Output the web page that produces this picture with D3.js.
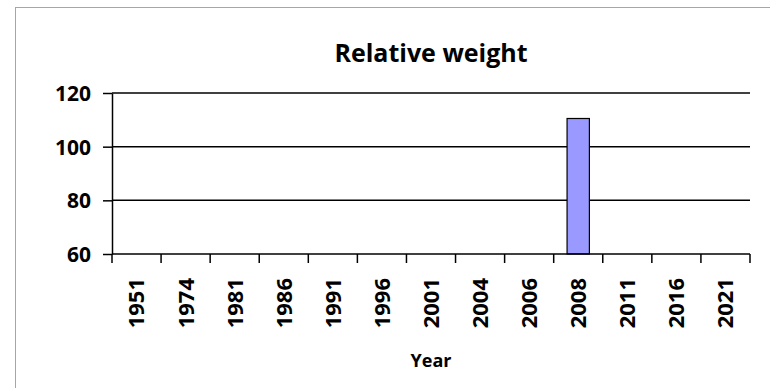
<!DOCTYPE html>
<html>
<head>
<meta charset="utf-8">
<script src="https://cdn.jsdelivr.net/npm/d3@7"></script>
<style>
  html, body { margin: 0; padding: 0; background: #fff; }
  svg { display: block; }
  text { font-family: "Open Sans", "Liberation Sans", sans-serif; font-weight: bold; fill: #000; }
</style>
</head>
<body>
<svg id="chart" width="770" height="388"></svg>
<script>
const categories = ["1951","1974","1981","1986","1991","1996","2001","2004","2006","2008","2011","2016","2021"];
const values = [null,null,null,null,null,null,null,null,null,110.5,null,null,null];
const yTicks = [60, 80, 100, 120];
const titleText = "Relative weight";
const xAxisTitle = "Year";

const plot = { left: 112, right: 750, top: 93, bottom: 254 };

const svg = d3.select("#chart");

// outer frame
svg.append("rect")
  .attr("x", 15.5).attr("y", 7.5)
  .attr("width", 770).attr("height", 400)
  .attr("fill", "none").attr("stroke", "#a6a6a6").attr("stroke-width", 1);

const x = d3.scaleBand().domain(categories).range([plot.left, plot.right]).padding(0);
const y = d3.scaleLinear().domain([60, 120]).range([plot.bottom, plot.top]);

// gridlines
svg.append("g").selectAll("line")
  .data(yTicks.filter(t => t > 60))
  .join("line")
  .attr("x1", plot.left).attr("x2", plot.right)
  .attr("y1", d => y(d)).attr("y2", d => y(d))
  .attr("stroke", "#000").attr("stroke-width", 1.5);

// bars
const barFrac = 0.455;
svg.append("g").selectAll("rect")
  .data(categories.map((c, i) => ({ c, v: values[i] })).filter(d => d.v != null))
  .join("rect")
  .attr("x", d => x(d.c) + x.bandwidth() * (1 - barFrac) / 2)
  .attr("width", x.bandwidth() * barFrac)
  .attr("y", d => y(d.v))
  .attr("height", d => y(60) - y(d.v))
  .attr("fill", "#9999ff")
  .attr("stroke", "#000").attr("stroke-width", 1.2);

// y axis
const yAxis = d3.axisLeft(y).tickValues(yTicks).tickSize(9).tickPadding(12).tickSizeOuter(0);
const gy = svg.append("g").attr("transform", `translate(${plot.left},0)`).call(yAxis);
gy.select(".domain").attr("stroke", "#000").attr("stroke-width", 1.5);
gy.selectAll(".tick line").attr("stroke", "#000").attr("stroke-width", 1.5);
gy.selectAll(".tick text").attr("font-size", 21).attr("dy", "0.36em")
  .style("font-family", "'Open Sans', sans-serif").style("font-weight", "bold").attr("fill", "#000");

// x axis: ticks at category boundaries
const gx = svg.append("g").attr("transform", `translate(0,${plot.bottom})`);
gx.append("line").attr("x1", plot.left).attr("x2", plot.right).attr("y1", 0).attr("y2", 0)
  .attr("stroke", "#000").attr("stroke-width", 1.5);
const bounds = categories.map(c => x(c)).concat([x(categories[categories.length - 1]) + x.bandwidth()]);
gx.selectAll("line.tk").data(bounds).join("line").attr("class", "tk")
  .attr("x1", d => d).attr("x2", d => d).attr("y1", 0).attr("y2", 9)
  .attr("stroke", "#000").attr("stroke-width", 1.5);
gx.selectAll("text").data(categories).join("text")
  .attr("transform", d => `translate(${x(d) + x.bandwidth() / 2},24) rotate(-90)`)
  .attr("text-anchor", "end").attr("dy", "0.36em")
  .attr("font-size", 22)
  .text(d => d);

// title
svg.append("text").attr("x", (plot.left + plot.right) / 2).attr("y", 62)
  .attr("text-anchor", "middle").attr("font-size", 25).text(titleText);

// x axis title
svg.append("text").attr("x", (plot.left + plot.right) / 2).attr("y", 367)
  .attr("text-anchor", "middle").attr("font-size", 18).text(xAxisTitle);
</script>
</body>
</html>
